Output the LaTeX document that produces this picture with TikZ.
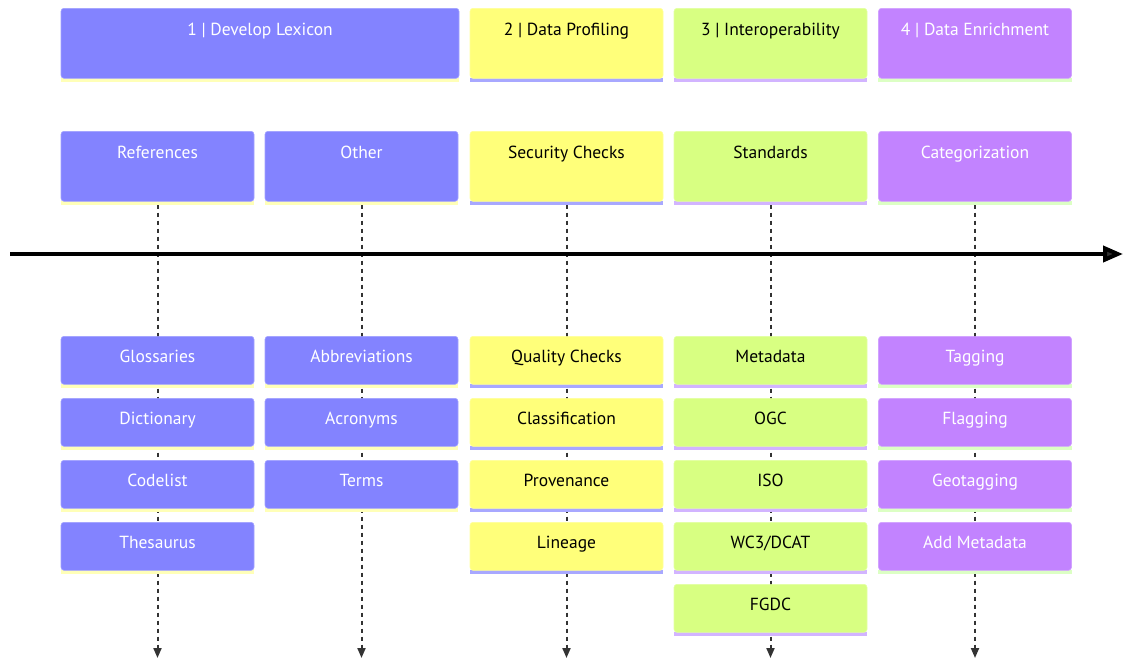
\documentclass[tikz,border=0pt]{standalone}
\usepackage{fontspec}
\setmainfont{PT Sans}
\usetikzlibrary{arrows.meta}
\definecolor{cblue}{HTML}{8383FF}
\definecolor{cyellow}{HTML}{FFFF7A}
\definecolor{cgreen}{HTML}{D8FF82}
\definecolor{cpurple}{HTML}{C283FF}
\definecolor{sblue}{HTML}{FFFFB8}
\definecolor{syellow}{HTML}{A8A8FF}
\definecolor{sgreen}{HTML}{D2B4FF}
\definecolor{spurple}{HTML}{DCFFC4}
\definecolor{ink}{HTML}{333333}
\pgfdeclarelayer{bg}
\pgfsetlayers{bg,main}
\begin{document}
\begin{tikzpicture}[x=1pt,y=-1pt,
  box/.style n args={3}{rectangle, rounded corners=3pt, minimum width=193pt, inner xsep=0pt, inner ysep=0pt,
    fill=#1, draw=#1!75!white, line width=0.6pt, text=#2, font=\fontsize{17.5}{20}\selectfont, anchor=north,
    append after command={\pgfextra{\fill[#3] ([yshift=1pt]\tikzlastnode.south west) rectangle ([yshift=-3pt]\tikzlastnode.south east);}}},
  tall/.style={text height=27pt, text depth=43pt},
  short/.style={text height=26pt, text depth=22pt},
  bluebox/.style={box={cblue}{white}{sblue}},
  yellowbox/.style={box={cyellow}{black}{syellow}},
  greenbox/.style={box={cgreen}{black}{sgreen}},
  purplebox/.style={box={cpurple}{white}{spurple}},
  dashline/.style={draw=ink, line width=2pt, dash pattern=on 4pt off 4pt, -{Triangle[length=10pt,width=8pt,fill=ink]}},
  mainline/.style={draw=black, line width=4pt, -{Triangle[length=20pt,width=16pt,fill=ink]}}
]
\useasboundingbox (0,0) rectangle (1123,662);

% sections
\node[bluebox, tall, minimum width=398pt] (s1) at (260,8) {1 | Develop Lexicon};
\node[yellowbox, tall] (s2) at (566.5,8) {2 | Data Profiling};
\node[greenbox, tall] (s3) at (770.5,8) {3 | Interoperability};
\node[purplebox, tall] (s4) at (975,8) {4 | Data Enrichment};

% tasks
\node[bluebox, tall] (t1) at (157.5,131) {References};
\node[bluebox, tall] (t2) at (361.5,131) {Other};
\node[yellowbox, tall] (t3) at (566.5,131) {Security Checks};
\node[greenbox, tall] (t4) at (770.5,131) {Standards};
\node[purplebox, tall] (t5) at (975,131) {Categorization};

% events column 1
\node[bluebox, short] (e11) at (157.5,336) {Glossaries};
\node[bluebox, short] (e12) at (157.5,398) {Dictionary};
\node[bluebox, short] (e13) at (157.5,460) {Codelist};
\node[bluebox, short] (e14) at (157.5,522) {Thesaurus};
% column 2
\node[bluebox, short] (e21) at (361.5,336) {Abbreviations};
\node[bluebox, short] (e22) at (361.5,398) {Acronyms};
\node[bluebox, short] (e23) at (361.5,460) {Terms};
% column 3
\node[yellowbox, short] (e31) at (566.5,336) {Quality Checks};
\node[yellowbox, short] (e32) at (566.5,398) {Classification};
\node[yellowbox, short] (e33) at (566.5,460) {Provenance};
\node[yellowbox, short] (e34) at (566.5,522) {Lineage};
% column 4
\node[greenbox, short] (e41) at (770.5,336) {Metadata};
\node[greenbox, short] (e42) at (770.5,398) {OGC};
\node[greenbox, short] (e43) at (770.5,460) {ISO};
\node[greenbox, short] (e44) at (770.5,522) {WC3/DCAT};
\node[greenbox, short] (e45) at (770.5,584) {FGDC};
% column 5
\node[purplebox, short] (e51) at (975,336) {Tagging};
\node[purplebox, short] (e52) at (975,398) {Flagging};
\node[purplebox, short] (e53) at (975,460) {Geotagging};
\node[purplebox, short] (e54) at (975,522) {Add Metadata};

% ends
\coordinate (b1) at (157.5,658);
\coordinate (b2) at (361.5,658);
\coordinate (b3) at (566.5,658);
\coordinate (b4) at (770.5,658);
\coordinate (b5) at (975,658);
\coordinate (ml0) at (10,254);
\coordinate (ml1) at (1123,254);

\begin{pgfonlayer}{bg}
\draw[dashline] ([yshift=-3pt]t1.south) -- (b1);
\draw[dashline] ([yshift=-3pt]t2.south) -- (b2);
\draw[dashline] ([yshift=-3pt]t3.south) -- (b3);
\draw[dashline] ([yshift=-3pt]t4.south) -- (b4);
\draw[dashline] ([yshift=-3pt]t5.south) -- (b5);
\draw[mainline] (ml0) -- (ml1);
\end{pgfonlayer}
\end{tikzpicture}
\end{document}
